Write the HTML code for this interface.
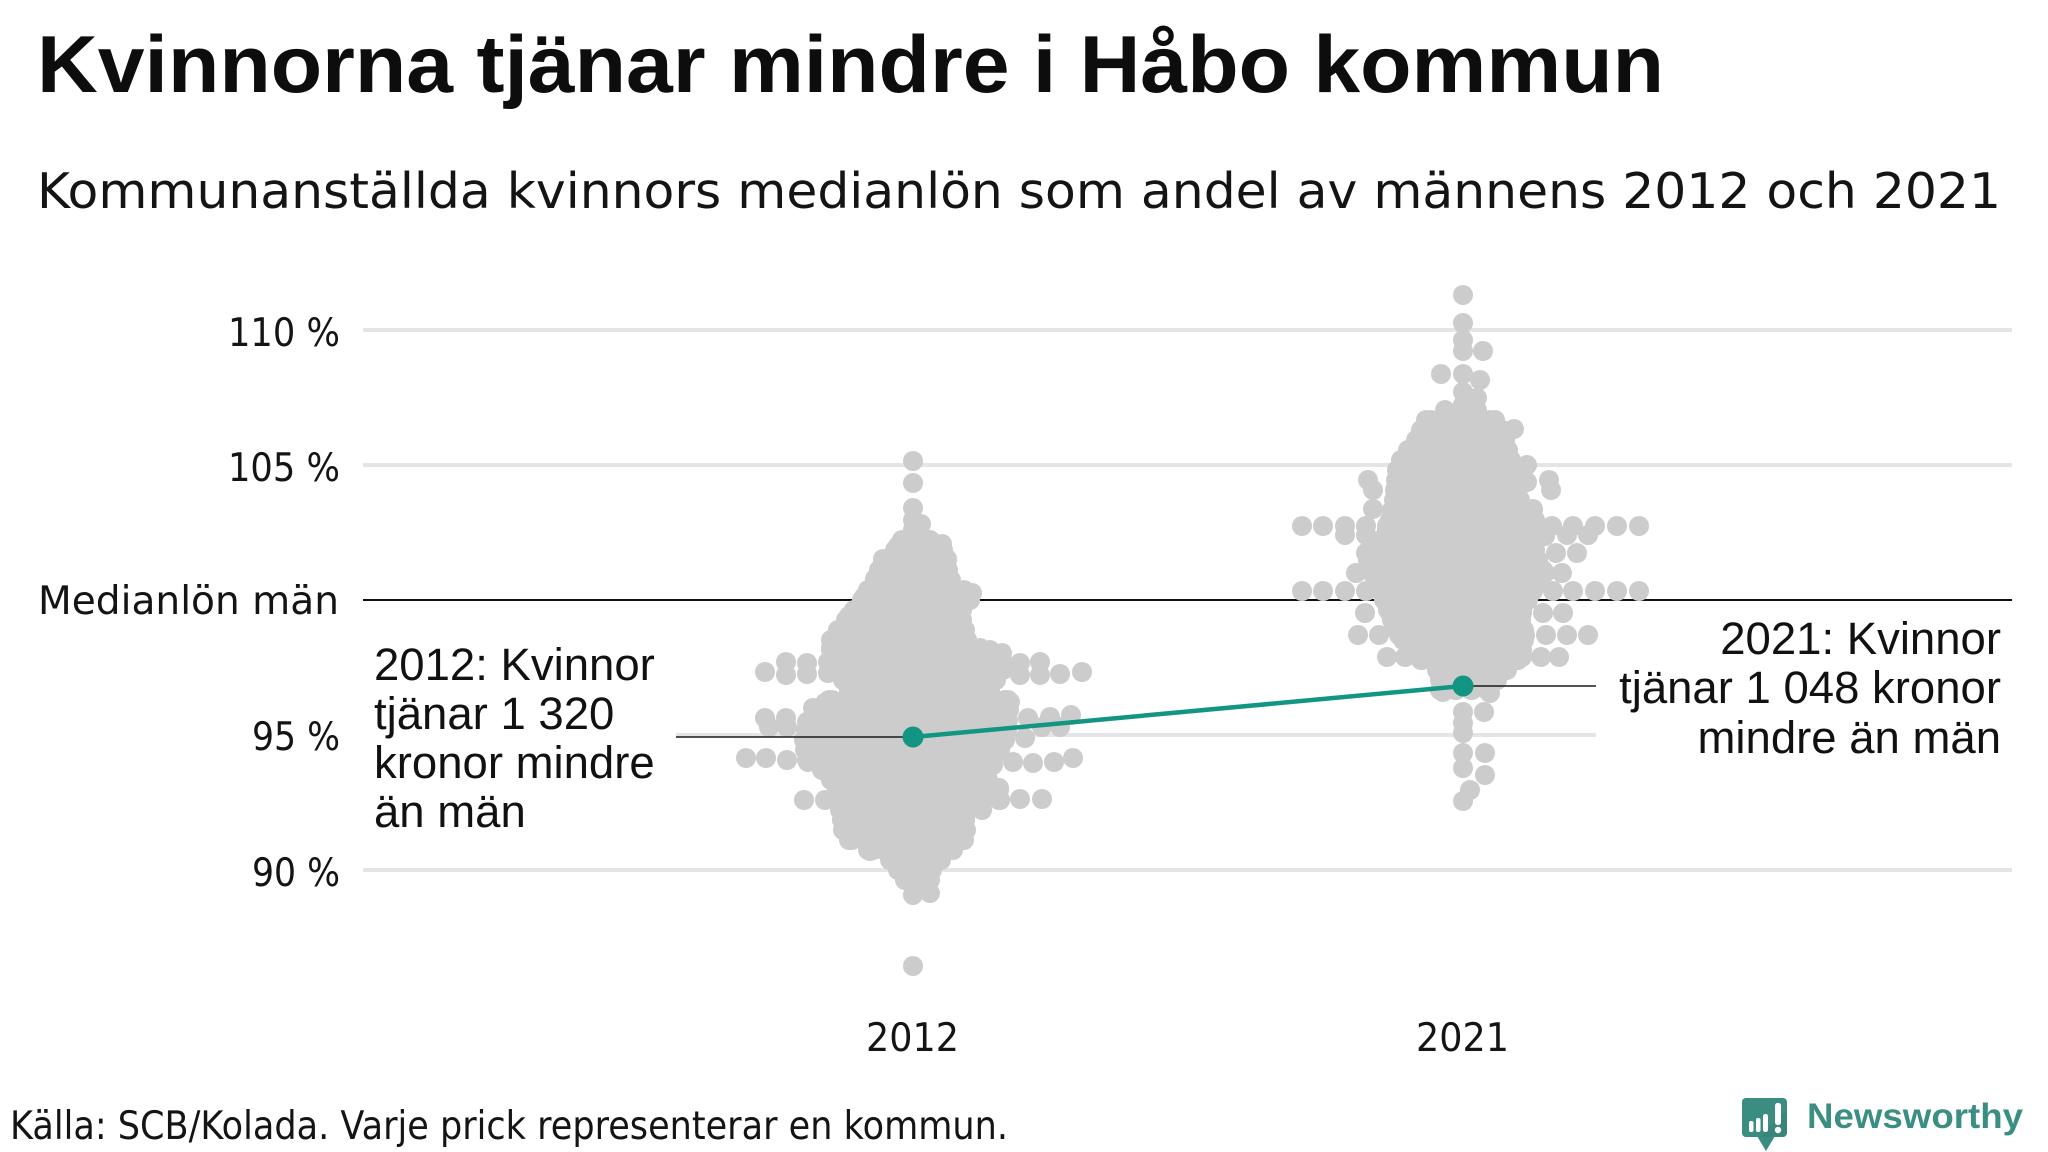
<!DOCTYPE html>
<html>
<head>
<meta charset="utf-8">
<style>
  html,body{margin:0;padding:0;background:#fff;}
  svg{display:block;}
  .t{font-family:"DejaVu Sans","Liberation Sans",sans-serif;fill:#141414;}
  .a{font-family:"Liberation Sans","DejaVu Sans",sans-serif;fill:#111;font-size:45.5px;}
  .r line{stroke:#cccccc;stroke-width:20;stroke-linecap:round;stroke-dasharray:0 16;}
</style>
</head>
<body>
<svg width="2048" height="1152" viewBox="0 0 2048 1152" xmlns="http://www.w3.org/2000/svg">
  <rect width="2048" height="1152" fill="#fff"/>

  <!-- Title & subtitle -->
  <text x="37" y="92" font-family="'Liberation Sans',sans-serif" font-weight="bold" font-size="81" fill="#0d0d0d" textLength="1627" lengthAdjust="spacingAndGlyphs">Kvinnorna tjänar mindre i Håbo kommun</text>
  <text class="t" x="37" y="208" font-size="49" textLength="1964" lengthAdjust="spacingAndGlyphs">Kommunanställda kvinnors medianlön som andel av männens 2012 och 2021</text>

  <!-- Gridlines -->
  <g stroke="#e4e4e9" stroke-width="4">
    <line x1="363" y1="330" x2="2012" y2="330"/>
    <line x1="363" y1="465" x2="2012" y2="465"/>
    <line x1="676" y1="735" x2="1596" y2="735"/>
    <line x1="363" y1="870" x2="2012" y2="870"/>
  </g>
  <line x1="363" y1="600" x2="2012" y2="600" stroke="#111" stroke-width="2"/>

  <!-- Y labels -->
  <text class="t" x="228" y="346" font-size="39" textLength="112" lengthAdjust="spacingAndGlyphs">110 %</text>
  <text class="t" x="228" y="481" font-size="39" textLength="112" lengthAdjust="spacingAndGlyphs">105 %</text>
  <text class="t" x="38" y="614" font-size="39" textLength="301" lengthAdjust="spacingAndGlyphs">Medianlön män</text>
  <text class="t" x="252" y="750" font-size="39" textLength="88" lengthAdjust="spacingAndGlyphs">95 %</text>
  <text class="t" x="252" y="886" font-size="39" textLength="88" lengthAdjust="spacingAndGlyphs">90 %</text>

  <!-- X labels -->
  <text class="t" x="866" y="1051" font-size="39" textLength="93" lengthAdjust="spacingAndGlyphs">2012</text>
  <text class="t" x="1416" y="1051" font-size="39" textLength="93" lengthAdjust="spacingAndGlyphs">2021</text>

  <!-- 2012 swarm -->
  <g fill="#cccccc">
    <polygon points="913,528 923,536 942,545 947,559 950,578 972,594 960,612 967,638 980,648 1002,653 1003,673 990,690 1010,702 1008,718 1005,742 993,760 985,776 999,790 1000,800 965,820 967,837 952,851 932,868 929,893 913,893 896,862 870,851 843,837 842,820 837,790 828,772 808,765 804,742 825,703 849,690 831,653 831,640 849,616 864,597 875,579 883,559 898,546 905,536"/>
  </g>
  <g class="r">
    <line x1="902" y1="540" x2="930" y2="540"/><line x1="930" y1="540" x2="902" y2="540"/>
    <line x1="895" y1="550" x2="943" y2="550"/><line x1="943" y1="550" x2="895" y2="550"/>
    <line x1="883" y1="560" x2="947" y2="560"/><line x1="947" y1="560" x2="883" y2="560"/>
    <line x1="879" y1="570" x2="948" y2="570"/><line x1="948" y1="570" x2="879" y2="570"/>
    <line x1="875" y1="580" x2="951" y2="580"/><line x1="951" y1="580" x2="875" y2="580"/>
    <line x1="868" y1="590" x2="964" y2="590"/><line x1="964" y1="590" x2="868" y2="590"/>
    <line x1="862" y1="600" x2="970" y2="600"/><line x1="970" y1="600" x2="862" y2="600"/>
    <line x1="854" y1="610" x2="962" y2="610"/><line x1="962" y1="610" x2="854" y2="610"/>
    <line x1="846" y1="620" x2="962" y2="620"/><line x1="962" y1="620" x2="846" y2="620"/>
    <line x1="838" y1="630" x2="965" y2="630"/><line x1="965" y1="630" x2="838" y2="630"/>
    <line x1="831" y1="640" x2="967" y2="640"/><line x1="967" y1="640" x2="831" y2="640"/>
    <line x1="831" y1="650" x2="990" y2="650"/><line x1="990" y1="650" x2="831" y2="650"/>
    <line x1="835" y1="660" x2="1002" y2="660"/><line x1="1002" y1="660" x2="835" y2="660"/>
    <line x1="839" y1="670" x2="1003" y2="670"/><line x1="1003" y1="670" x2="839" y2="670"/>
    <line x1="843" y1="680" x2="996" y2="680"/><line x1="996" y1="680" x2="843" y2="680"/>
    <line x1="849" y1="690" x2="990" y2="690"/><line x1="990" y1="690" x2="849" y2="690"/>
    <line x1="829" y1="700" x2="1008" y2="700"/><line x1="1008" y1="700" x2="829" y2="700"/>
    <line x1="817" y1="710" x2="1009" y2="710"/><line x1="1009" y1="710" x2="817" y2="710"/>
    <line x1="810" y1="720" x2="1008" y2="720"/><line x1="1008" y1="720" x2="810" y2="720"/>
    <line x1="806" y1="730" x2="1007" y2="730"/><line x1="1007" y1="730" x2="806" y2="730"/>
    <line x1="804" y1="740" x2="1005" y2="740"/><line x1="1005" y1="740" x2="804" y2="740"/>
    <line x1="805" y1="750" x2="1000" y2="750"/><line x1="1000" y1="750" x2="805" y2="750"/>
    <line x1="807" y1="760" x2="993" y2="760"/><line x1="993" y1="760" x2="807" y2="760"/>
    <line x1="822" y1="770" x2="988" y2="770"/><line x1="988" y1="770" x2="822" y2="770"/>
    <line x1="831" y1="780" x2="988" y2="780"/><line x1="988" y1="780" x2="831" y2="780"/>
    <line x1="837" y1="790" x2="999" y2="790"/><line x1="999" y1="790" x2="837" y2="790"/>
    <line x1="839" y1="800" x2="1000" y2="800"/><line x1="1000" y1="800" x2="839" y2="800"/>
    <line x1="840" y1="810" x2="982" y2="810"/><line x1="982" y1="810" x2="840" y2="810"/>
    <line x1="842" y1="820" x2="965" y2="820"/><line x1="965" y1="820" x2="842" y2="820"/>
    <line x1="843" y1="830" x2="966" y2="830"/><line x1="966" y1="830" x2="843" y2="830"/>
    <line x1="849" y1="840" x2="964" y2="840"/><line x1="964" y1="840" x2="849" y2="840"/>
    <line x1="868" y1="850" x2="953" y2="850"/><line x1="953" y1="850" x2="868" y2="850"/>
    <line x1="890" y1="860" x2="941" y2="860"/><line x1="941" y1="860" x2="890" y2="860"/>
    <line x1="898" y1="870" x2="932" y2="870"/><line x1="932" y1="870" x2="898" y2="870"/>
    <line x1="905" y1="880" x2="930" y2="880"/><line x1="930" y1="880" x2="905" y2="880"/>
  </g>
  <g fill="#cccccc">
    <circle cx="913" cy="461" r="10"/><circle cx="913" cy="483" r="10"/><circle cx="913" cy="508" r="10"/><circle cx="913" cy="520" r="10"/><circle cx="921" cy="524" r="10"/><circle cx="913" cy="530" r="10"/>
    <circle cx="786" cy="662" r="10"/><circle cx="786" cy="675" r="10"/><circle cx="807" cy="663" r="10"/><circle cx="807" cy="674" r="10"/><circle cx="828" cy="662" r="10"/><circle cx="828" cy="673" r="10"/><circle cx="847" cy="672" r="10"/><circle cx="765" cy="672" r="10"/>
    <circle cx="1020" cy="663" r="10"/><circle cx="1020" cy="675" r="10"/><circle cx="1040" cy="662" r="10"/><circle cx="1040" cy="675" r="10"/><circle cx="1060" cy="674" r="10"/><circle cx="1082" cy="672" r="10"/><circle cx="983" cy="672" r="10"/><circle cx="1002" cy="653" r="10"/>
    <circle cx="825" cy="703" r="10"/><circle cx="813" cy="708" r="10"/><circle cx="765" cy="718" r="10"/><circle cx="786" cy="718" r="10"/><circle cx="769" cy="727" r="10"/><circle cx="787" cy="727" r="10"/><circle cx="807" cy="722" r="10"/><circle cx="828" cy="718" r="10"/>
    <circle cx="1010" cy="702" r="10"/><circle cx="1028" cy="718" r="10"/><circle cx="1050" cy="717" r="10"/><circle cx="1071" cy="715" r="10"/><circle cx="1060" cy="727" r="10"/><circle cx="1042" cy="727" r="10"/><circle cx="1025" cy="738" r="10"/><circle cx="983" cy="742" r="10"/>
    <circle cx="746" cy="758" r="10"/><circle cx="766" cy="758" r="10"/><circle cx="787" cy="760" r="10"/><circle cx="808" cy="762" r="10"/><circle cx="827" cy="765" r="10"/><circle cx="847" cy="760" r="10"/><circle cx="974" cy="765" r="10"/><circle cx="985" cy="757" r="10"/><circle cx="993" cy="765" r="10"/><circle cx="1013" cy="762" r="10"/><circle cx="1033" cy="763" r="10"/><circle cx="1054" cy="762" r="10"/><circle cx="1073" cy="758" r="10"/>
    <circle cx="804" cy="800" r="10"/><circle cx="825" cy="800" r="10"/><circle cx="837" cy="790" r="10"/><circle cx="857" cy="793" r="10"/><circle cx="977" cy="790" r="10"/><circle cx="978" cy="802" r="10"/><circle cx="999" cy="788" r="10"/><circle cx="1000" cy="800" r="10"/><circle cx="1020" cy="799" r="10"/><circle cx="1042" cy="799" r="10"/>
    <circle cx="842" cy="819" r="10"/><circle cx="862" cy="822" r="10"/><circle cx="965" cy="820" r="10"/>
    <circle cx="870" cy="851" r="10"/><circle cx="892" cy="851" r="10"/><circle cx="933" cy="856" r="10"/><circle cx="952" cy="849" r="10"/><circle cx="952" cy="836" r="10"/><circle cx="913" cy="870" r="10"/><circle cx="913" cy="883" r="10"/><circle cx="930" cy="893" r="10"/><circle cx="913" cy="895" r="10"/><circle cx="913" cy="966" r="10"/>
    <circle cx="898" cy="546" r="10"/><circle cx="883" cy="559" r="10"/><circle cx="942" cy="544" r="10"/><circle cx="947" cy="559" r="10"/><circle cx="875" cy="579" r="10"/><circle cx="864" cy="597" r="10"/><circle cx="880" cy="602" r="10"/><circle cx="849" cy="616" r="10"/><circle cx="870" cy="618" r="10"/><circle cx="972" cy="593" r="10"/><circle cx="958" cy="598" r="10"/><circle cx="958" cy="618" r="10"/><circle cx="831" cy="648" r="10"/><circle cx="852" cy="642" r="10"/><circle cx="967" cy="640" r="10"/><circle cx="980" cy="648" r="10"/>
  </g>

  <!-- 2021 swarm -->
  <g fill="#cccccc">
    <polygon points="1463,405 1477,410 1491,416 1500,424 1505,440 1510,458 1515,470 1520,500 1533,509 1535,525 1535,553 1545,573 1533,590 1520,615 1525,635 1520,657 1505,672 1487,690 1463,692 1440,690 1440,672 1418,657 1399,635 1390,615 1372,573 1366,553 1387,535 1393,509 1395,490 1398,465 1415,442 1427,416 1448,414"/>
  </g>
  <g class="r">
    <line x1="1445" y1="410" x2="1477" y2="410"/><line x1="1477" y1="410" x2="1445" y2="410"/>
    <line x1="1426" y1="420" x2="1495" y2="420"/><line x1="1495" y1="420" x2="1426" y2="420"/>
    <line x1="1421" y1="430" x2="1502" y2="430"/><line x1="1502" y1="430" x2="1421" y2="430"/>
    <line x1="1416" y1="440" x2="1505" y2="440"/><line x1="1505" y1="440" x2="1416" y2="440"/>
    <line x1="1408" y1="450" x2="1508" y2="450"/><line x1="1508" y1="450" x2="1408" y2="450"/>
    <line x1="1401" y1="460" x2="1511" y2="460"/><line x1="1511" y1="460" x2="1401" y2="460"/>
    <line x1="1397" y1="470" x2="1515" y2="470"/><line x1="1515" y1="470" x2="1397" y2="470"/>
    <line x1="1396" y1="480" x2="1517" y2="480"/><line x1="1517" y1="480" x2="1396" y2="480"/>
    <line x1="1395" y1="490" x2="1518" y2="490"/><line x1="1518" y1="490" x2="1395" y2="490"/>
    <line x1="1394" y1="500" x2="1520" y2="500"/><line x1="1520" y1="500" x2="1394" y2="500"/>
    <line x1="1392" y1="510" x2="1533" y2="510"/><line x1="1533" y1="510" x2="1392" y2="510"/>
    <line x1="1390" y1="520" x2="1535" y2="520"/><line x1="1535" y1="520" x2="1390" y2="520"/>
    <line x1="1387" y1="530" x2="1535" y2="530"/><line x1="1535" y1="530" x2="1387" y2="530"/>
    <line x1="1381" y1="540" x2="1535" y2="540"/><line x1="1535" y1="540" x2="1381" y2="540"/>
    <line x1="1369" y1="550" x2="1535" y2="550"/><line x1="1535" y1="550" x2="1369" y2="550"/>
    <line x1="1368" y1="560" x2="1538" y2="560"/><line x1="1538" y1="560" x2="1368" y2="560"/>
    <line x1="1371" y1="570" x2="1543" y2="570"/><line x1="1543" y1="570" x2="1371" y2="570"/>
    <line x1="1376" y1="580" x2="1540" y2="580"/><line x1="1540" y1="580" x2="1376" y2="580"/>
    <line x1="1380" y1="590" x2="1533" y2="590"/><line x1="1533" y1="590" x2="1380" y2="590"/>
    <line x1="1384" y1="600" x2="1528" y2="600"/><line x1="1528" y1="600" x2="1384" y2="600"/>
    <line x1="1388" y1="610" x2="1522" y2="610"/><line x1="1522" y1="610" x2="1388" y2="610"/>
    <line x1="1392" y1="620" x2="1521" y2="620"/><line x1="1521" y1="620" x2="1392" y2="620"/>
    <line x1="1397" y1="630" x2="1524" y2="630"/><line x1="1524" y1="630" x2="1397" y2="630"/>
    <line x1="1403" y1="640" x2="1524" y2="640"/><line x1="1524" y1="640" x2="1403" y2="640"/>
    <line x1="1412" y1="650" x2="1522" y2="650"/><line x1="1522" y1="650" x2="1412" y2="650"/>
    <line x1="1421" y1="660" x2="1518" y2="660"/><line x1="1518" y1="660" x2="1421" y2="660"/>
    <line x1="1437" y1="670" x2="1507" y2="670"/><line x1="1507" y1="670" x2="1437" y2="670"/>
    <line x1="1440" y1="680" x2="1497" y2="680"/><line x1="1497" y1="680" x2="1440" y2="680"/>
    <line x1="1440" y1="690" x2="1487" y2="690"/><line x1="1487" y1="690" x2="1440" y2="690"/>
  </g>
  <g fill="#cccccc">
    <circle cx="1463" cy="295" r="10"/><circle cx="1463" cy="323" r="10"/><circle cx="1463" cy="340" r="10"/><circle cx="1463" cy="351" r="10"/><circle cx="1483" cy="351" r="10"/><circle cx="1441" cy="374" r="10"/><circle cx="1463" cy="374" r="10"/><circle cx="1480" cy="380" r="10"/><circle cx="1463" cy="392" r="10"/><circle cx="1477" cy="398" r="10"/><circle cx="1463" cy="405" r="10"/>
    <circle cx="1514" cy="429" r="10"/><circle cx="1527" cy="465" r="10"/><circle cx="1527" cy="482" r="10"/><circle cx="1549" cy="480" r="10"/><circle cx="1551" cy="490" r="10"/><circle cx="1368" cy="480" r="10"/><circle cx="1373" cy="490" r="10"/><circle cx="1373" cy="509" r="10"/><circle cx="1533" cy="509" r="10"/>
    <circle cx="1302" cy="526" r="10"/><circle cx="1323" cy="526" r="10"/><circle cx="1345" cy="526" r="10"/><circle cx="1366" cy="526" r="10"/><circle cx="1387" cy="526" r="10"/><circle cx="1552" cy="526" r="10"/><circle cx="1573" cy="526" r="10"/><circle cx="1595" cy="526" r="10"/><circle cx="1617" cy="526" r="10"/><circle cx="1639" cy="526" r="10"/>
    <circle cx="1345" cy="535" r="10"/><circle cx="1366" cy="535" r="10"/><circle cx="1545" cy="536" r="10"/><circle cx="1567" cy="535" r="10"/><circle cx="1588" cy="535" r="10"/>
    <circle cx="1366" cy="553" r="10"/><circle cx="1385" cy="553" r="10"/><circle cx="1535" cy="553" r="10"/><circle cx="1556" cy="553" r="10"/><circle cx="1577" cy="553" r="10"/>
    <circle cx="1356" cy="573" r="10"/><circle cx="1372" cy="573" r="10"/><circle cx="1393" cy="573" r="10"/><circle cx="1545" cy="573" r="10"/><circle cx="1562" cy="573" r="10"/>
    <circle cx="1302" cy="591" r="10"/><circle cx="1323" cy="591" r="10"/><circle cx="1345" cy="591" r="10"/><circle cx="1366" cy="591" r="10"/><circle cx="1387" cy="591" r="10"/><circle cx="1533" cy="591" r="10"/><circle cx="1553" cy="591" r="10"/><circle cx="1573" cy="591" r="10"/><circle cx="1595" cy="591" r="10"/><circle cx="1617" cy="591" r="10"/><circle cx="1639" cy="591" r="10"/>
    <circle cx="1365" cy="613" r="10"/><circle cx="1390" cy="613" r="10"/><circle cx="1522" cy="613" r="10"/><circle cx="1543" cy="613" r="10"/><circle cx="1563" cy="613" r="10"/>
    <circle cx="1358" cy="635" r="10"/><circle cx="1379" cy="635" r="10"/><circle cx="1399" cy="635" r="10"/><circle cx="1525" cy="635" r="10"/><circle cx="1546" cy="635" r="10"/><circle cx="1567" cy="635" r="10"/><circle cx="1588" cy="635" r="10"/>
    <circle cx="1387" cy="657" r="10"/><circle cx="1405" cy="657" r="10"/><circle cx="1418" cy="657" r="10"/><circle cx="1522" cy="657" r="10"/><circle cx="1541" cy="657" r="10"/><circle cx="1559" cy="657" r="10"/>
    <circle cx="1443" cy="692" r="10"/><circle cx="1490" cy="693" r="10"/><circle cx="1484" cy="712" r="10"/><circle cx="1463" cy="712" r="10"/><circle cx="1463" cy="723" r="10"/><circle cx="1463" cy="733" r="10"/><circle cx="1463" cy="753" r="10"/><circle cx="1485" cy="753" r="10"/><circle cx="1463" cy="768" r="10"/><circle cx="1485" cy="775" r="10"/><circle cx="1470" cy="790" r="10"/><circle cx="1463" cy="801" r="10"/>
  </g>

  <!-- Annotation lines -->
  <line x1="676" y1="737" x2="913" y2="737" stroke="#1a1a1a" stroke-width="1.4"/>
  <line x1="1463" y1="686" x2="1596" y2="686" stroke="#1a1a1a" stroke-width="1.4"/>

  <!-- Teal line & points -->
  <line x1="913" y1="737" x2="1463" y2="686" stroke="#129683" stroke-width="4.5"/>
  <circle cx="913" cy="737" r="10.5" fill="#129683"/>
  <circle cx="1463" cy="686" r="10.5" fill="#129683"/>

  <!-- Annotations -->
  <text class="a" x="374" y="680">2012: Kvinnor</text>
  <text class="a" x="374" y="729">tjänar 1 320</text>
  <text class="a" x="374" y="778">kronor mindre</text>
  <text class="a" x="374" y="827">än män</text>

  <text class="a" x="2001" y="654" text-anchor="end">2021: Kvinnor</text>
  <text class="a" x="2001" y="703" text-anchor="end">tjänar 1 048 kronor</text>
  <text class="a" x="2001" y="753" text-anchor="end">mindre än män</text>

  <!-- Footer -->
  <text class="t" x="10" y="1139" font-size="39" textLength="998" lengthAdjust="spacingAndGlyphs">Källa: SCB/Kolada. Varje prick representerar en kommun.</text>

  <!-- Logo -->
  <g>
    <rect x="1742" y="1098" width="45" height="39" rx="4" fill="#3a8d80"/>
    <polygon points="1757,1136 1775,1136 1766,1151" fill="#3a8d80"/>
    <polygon points="1760,1137 1787,1110 1787,1133 1783,1137" fill="#357f76" opacity="0.5"/>
    <rect x="1749" y="1121" width="4.5" height="11" rx="2" fill="#fff"/>
    <rect x="1756" y="1118" width="4.5" height="14" rx="2" fill="#fff"/>
    <rect x="1763" y="1114" width="5" height="18" rx="2.2" fill="#fff"/>
    <rect x="1775" y="1103" width="6" height="22" rx="2.5" fill="#fff"/>
    <circle cx="1778" cy="1130" r="3.2" fill="#fff"/>
  </g>
  <text x="1807" y="1128" font-family="'Liberation Sans',sans-serif" font-weight="bold" font-size="35" fill="#3b8f82" textLength="216" lengthAdjust="spacingAndGlyphs">Newsworthy</text>
</svg>
</body>
</html>
